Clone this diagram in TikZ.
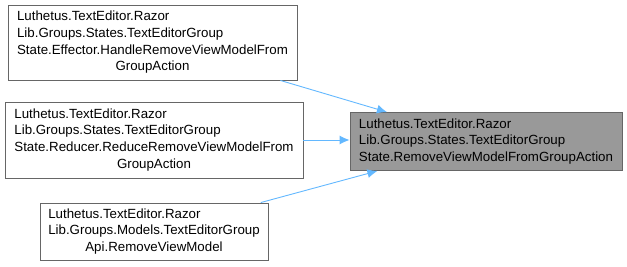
\documentclass[tikz,border=0pt]{standalone}
\usepackage{fontspec}
\setmainfont{Liberation Sans}
\usetikzlibrary{arrows.meta}
\definecolor{edgeblue}{HTML}{63B8FF}
\definecolor{boxgray}{HTML}{666666}
\definecolor{focusgray}{HTML}{999999}
% lines left-aligned, last line centered
\newcommand{\fnlabel}[2]{\begin{tabular}{@{}l@{}}#1\\\multicolumn{1}{@{}c@{}}{#2}\end{tabular}}
\begin{document}
\begin{tikzpicture}[x=1pt,y=-1pt,
    fn/.style={draw=boxgray,fill=white,line width=0.9pt,inner sep=0pt,
      font=\fontsize{13.3}{16.7}\selectfont},
    focus/.style={fn,fill=focusgray},
    calls/.style={draw=edgeblue,line width=0.9pt,arrows={-Latex[length=10pt,width=9pt]}}]
\useasboundingbox (0,0) rectangle (627,267);

\node[fn,minimum width=289pt,minimum height=75pt] (effector) at (152.5,42.5)
  {\fnlabel{Luthetus.TextEditor.Razor\\Lib.Groups.States.TextEditorGroup\\State.Effector.HandleRemoveViewModelFrom}{GroupAction}};
\node[fn,minimum width=298pt,minimum height=76pt] (reducer) at (154,140)
  {\fnlabel{Luthetus.TextEditor.Razor\\Lib.Groups.States.TextEditorGroup\\State.Reducer.ReduceRemoveViewModelFrom}{GroupAction}};
\node[fn,minimum width=228pt,minimum height=57pt] (api) at (154,231.5)
  {\fnlabel{Luthetus.TextEditor.Razor\\Lib.Groups.Models.TextEditorGroup}{Api.RemoveViewModel}};
\node[focus,minimum width=272pt,minimum height=58pt] (action) at (486,141.5)
  {\fnlabel{Luthetus.TextEditor.Razor\\Lib.Groups.States.TextEditorGroup}{State.RemoveViewModelFromGroupAction}};

\draw[calls] (effector) -- (action);
\draw[calls] (reducer.east) -- (action.west |- reducer.east);
\draw[calls] (api) -- (action);
\end{tikzpicture}
\end{document}
